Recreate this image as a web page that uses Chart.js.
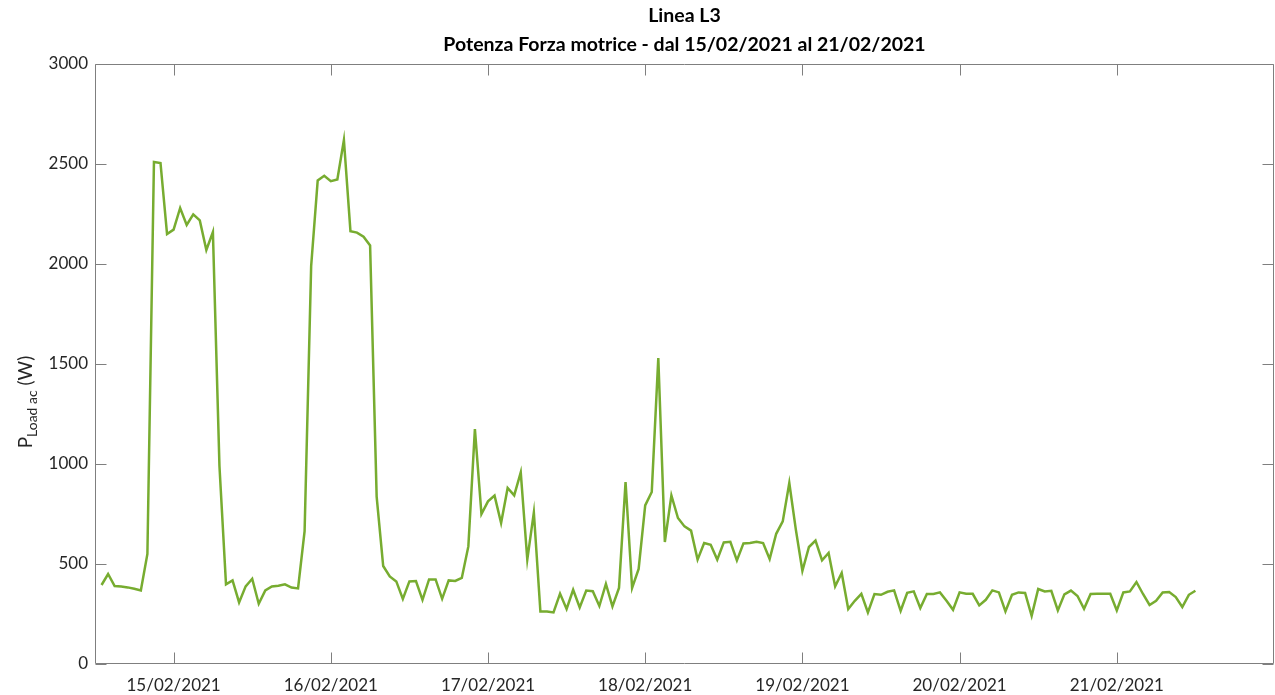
<!DOCTYPE html>
<html>
<head>
<meta charset="utf-8">
<title>Linea L3 - Potenza Forza motrice</title>
<script src="https://cdn.jsdelivr.net/npm/chart.js@4.4.1/dist/chart.umd.min.js"></script>
<style>
    html, body { margin: 0; padding: 0; background: #ffffff; }
    #wrap { position: relative; width: 1275px; height: 695px; }
</style>
</head>
<body>
<div id="wrap"><canvas id="loadChart"></canvas></div>
<script>
// Hourly load readings; hours are counted from 15/02/2021 00:00,
// first sample is 14/02/2021 13:00
const firstHour = -11;
const loadW = [
    395, 450, 390, 387, 383, 376, 368, 550, 2510, 2505, 2150,
    2172, 2280, 2195, 2248, 2218, 2070, 2160, 990, 398, 418, 308, 388, 426,
    301, 368, 388, 391, 398, 382, 378, 664, 1989, 2418, 2441, 2414,
    2423, 2620, 2164, 2157, 2136, 2093, 837, 490, 438, 413, 325, 413,
    415, 321, 423, 423, 326, 418, 415, 430, 588, 1175, 750, 813,
    842, 705, 880, 843, 958, 522, 758, 263, 263, 258, 352, 275,
    371, 283, 367, 364, 290, 400, 288, 380, 910, 380, 475, 793,
    860, 1530, 610, 843, 730, 688, 667, 522, 605, 596, 522, 608,
    611, 518, 603, 605, 611, 605, 525, 651, 713, 905, 672, 466,
    585, 617, 518, 555, 388, 455, 275, 316, 351, 258, 350, 346,
    361, 368, 266, 356, 363, 280, 350, 350, 358, 316, 271, 358,
    351, 351, 293, 321, 368, 358, 263, 346, 358, 355, 241, 375,
    363, 366, 268, 348, 367, 340, 276, 350, 351, 351, 351, 268,
    358, 363, 410, 350, 295, 316, 358, 360, 335, 285, 346, 366
];
const dayLabels = ['15/02/2021', '16/02/2021', '17/02/2021', '18/02/2021',
                   '19/02/2021', '20/02/2021', '21/02/2021'];
const yTicks = [0, 500, 1000, 1500, 2000, 2500, 3000];
const titleLines = ['Linea L3', 'Potenza Forza motrice - dal 15/02/2021 al 21/02/2021'];

const axisColor = '#7f7f7f';
const textColor = '#262626';
const lineColor = '#77ac30';
const fontFamily = 'Lato, "Open Sans", sans-serif';

// Box around the plot with inward tick marks on all four sides,
// plus the two-line title and the y label with its subscript
const framePlugin = {
    id: 'framePlugin',
    afterDraw(chart) {
        const { ctx, chartArea: a, scales: { x, y } } = chart;
        const L = Math.round(a.left) + 0.5;
        const R = Math.round(a.right) - 0.5;
        const T = Math.round(a.top) + 0.5;
        const B = Math.round(a.bottom) - 0.5;
        const tickLen = 11;

        ctx.save();
        ctx.strokeStyle = axisColor;
        ctx.lineWidth = 1;
        ctx.beginPath();
        ctx.rect(L, T, R - L, B - T);

        yTicks.forEach(v => {
            const py = Math.round(y.getPixelForValue(v)) + 0.5;
            ctx.moveTo(L, py); ctx.lineTo(L + tickLen, py);
            ctx.moveTo(R, py); ctx.lineTo(R - tickLen, py);
        });
        dayLabels.forEach((_, i) => {
            const px = Math.round(x.getPixelForValue(i * 24)) + 0.5;
            ctx.moveTo(px, B); ctx.lineTo(px, B - tickLen);
            ctx.moveTo(px, T); ctx.lineTo(px, T + tickLen);
        });
        ctx.stroke();

        // title
        const cx = (a.left + a.right) / 2;
        ctx.fillStyle = '#000000';
        ctx.textAlign = 'center';
        ctx.textBaseline = 'middle';
        ctx.font = 'bold 19.5px ' + fontFamily;
        ctx.fillText(titleLines[0], cx, 16);
        ctx.fillText(titleLines[1], cx, 45);

        // y label: P with "Load ac" subscript, then the unit
        ctx.translate(32, 402);
        ctx.rotate(-Math.PI / 2);
        ctx.textAlign = 'left';
        ctx.textBaseline = 'alphabetic';
        ctx.fillStyle = textColor;
        ctx.font = '19px ' + fontFamily;
        const wP = ctx.measureText('P').width;
        const wU = ctx.measureText(' (W)').width;
        ctx.font = '14px ' + fontFamily;
        const wS = ctx.measureText('Load ac').width;
        let x0 = -(wP + wS + wU) / 2;
        ctx.font = '19px ' + fontFamily;
        ctx.fillText('P', x0, 0);
        ctx.font = '14px ' + fontFamily;
        ctx.fillText('Load ac', x0 + wP, 5);
        ctx.font = '19px ' + fontFamily;
        ctx.fillText(' (W)', x0 + wP + wS, 0);
        ctx.restore();
    }
};

const ctx = document.getElementById('loadChart').getContext('2d');
new Chart(ctx, {
    type: 'line',
    data: {
        datasets: [{
            label: 'P Load ac',
            data: loadW.map((w, i) => ({ x: firstHour + i, y: w })),
            borderColor: lineColor,
            backgroundColor: lineColor,
            borderWidth: 2.5,
            pointRadius: 0,
            tension: 0,
            fill: false
        }]
    },
    options: {
        responsive: true,
        maintainAspectRatio: false,
        animation: false,
        layout: { padding: { top: 64, right: 1, left: 0, bottom: 0 } },
        plugins: {
            legend: { display: false },
            title: { display: false },
            tooltip: { enabled: false }
        },
        scales: {
            x: {
                type: 'linear',
                min: -12,
                max: 168,
                grid: { display: false, drawTicks: false, tickLength: 0 },
                border: { display: false },
                afterBuildTicks: axis => {
                    axis.ticks = dayLabels.map((_, i) => ({ value: i * 24 }));
                },
                ticks: {
                    autoSkip: false,
                    maxRotation: 0,
                    padding: 11,
                    color: textColor,
                    font: { family: fontFamily, size: 17 },
                    callback: v => dayLabels[Math.round(v / 24)]
                },
                afterFit: s => { s.height = 31; }
            },
            y: {
                min: 0,
                max: 3000,
                grid: { display: false, drawTicks: false, tickLength: 0 },
                border: { display: false },
                afterBuildTicks: axis => {
                    axis.ticks = yTicks.map(v => ({ value: v }));
                },
                ticks: {
                    padding: 7,
                    color: textColor,
                    font: { family: fontFamily, size: 17 },
                    callback: v => String(v)
                },
                afterFit: s => { s.width = 95; }
            }
        }
    },
    plugins: [framePlugin]
});
</script>
</body>
</html>
